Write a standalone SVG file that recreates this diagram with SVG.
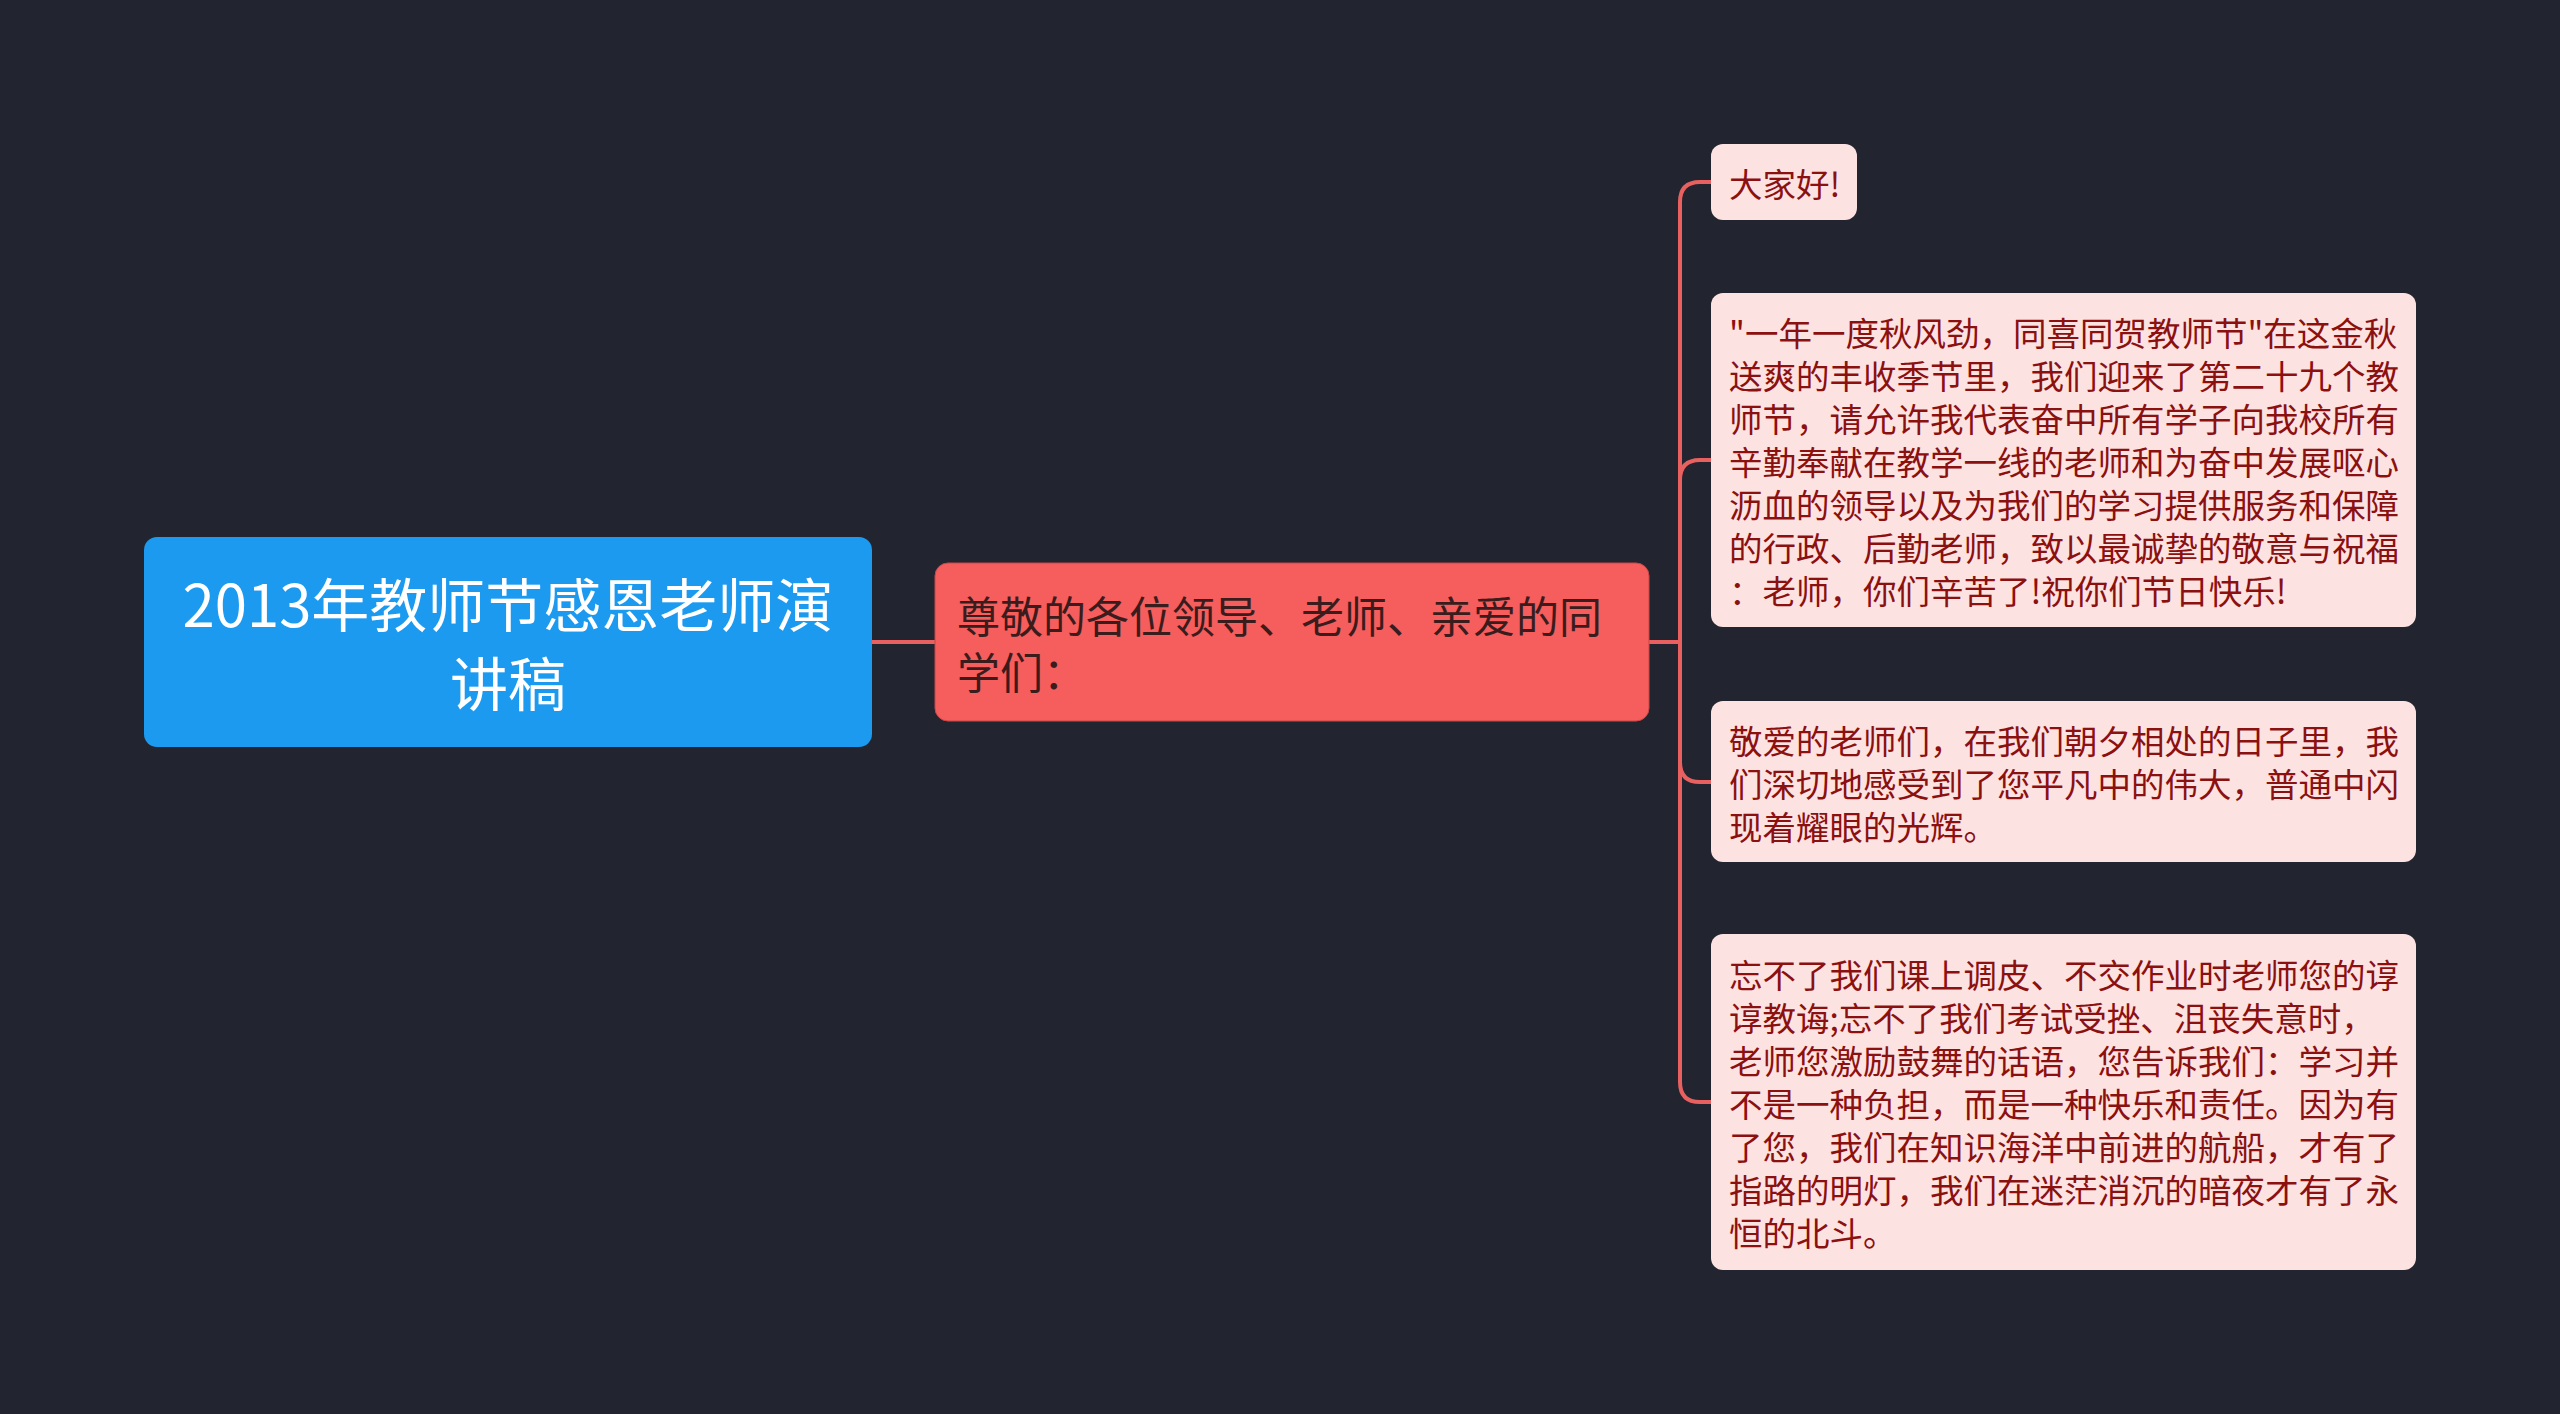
<svg xmlns="http://www.w3.org/2000/svg" width="2560" height="1414" viewBox="0 0 2560 1414">
<style>
.bg{fill:#22252f}
.link{fill:none;stroke:#e8605f;stroke-width:4}
.root rect{fill:#1b9af0}
.root text{fill:#ffffff;font-size:58px;text-anchor:middle}
.mid rect{fill:#f65d5d;stroke:#c94848;stroke-width:1}
.mid text{fill:#3a1c1c;font-size:43px}
.leaf rect{fill:#fde2e2}
.leaf text{fill:#8b1010;font-size:33.5px}
text{font-family:"Noto Sans CJK SC","Noto Sans",sans-serif;dominant-baseline:central}
</style>
<rect class="bg" x="0" y="0" width="2560" height="1414"/>
<g id="connectors">
<path class="link" d="M872 642 H935"/>
<path class="link" d="M1649 642 H1680 V202 Q1680 182 1700 182 H1711"/>
<path class="link" d="M1649 642 H1680 V480 Q1680 460 1700 460 H1711"/>
<path class="link" d="M1649 642 H1680 V762 Q1680 782 1700 782 H1711"/>
<path class="link" d="M1649 642 H1680 V1082 Q1680 1102 1700 1102 H1711"/>
</g>
<g id="root" class="root">
<rect x="144" y="537" width="728" height="210" rx="13"/>
<text><tspan x="508" y="602">2013年教师节感恩老师演</tspan><tspan x="508" y="681">讲稿</tspan></text>
</g>
<g id="mid" class="mid">
<rect x="935" y="563" width="714" height="158" rx="13"/>
<text><tspan x="957" y="614">尊敬的各位领导、老师、亲爱的同</tspan><tspan x="957" y="670">学们：</tspan></text>
</g>
<g id="leaf1" class="leaf">
<rect x="1711" y="144" width="146" height="76" rx="12"/>
<text x="1729" y="182">大家好!</text>
</g>
<g id="leaf2" class="leaf">
<rect x="1711" y="293" width="705" height="334" rx="12"/>
<text><tspan x="1729" y="331">"一年一度秋风劲，同喜同贺教师节"在这金秋</tspan><tspan x="1729" y="374">送爽的丰收季节里，我们迎来了第二十九个教</tspan><tspan x="1729" y="417">师节，请允许我代表奋中所有学子向我校所有</tspan><tspan x="1729" y="460">辛勤奉献在教学一线的老师和为奋中发展呕心</tspan><tspan x="1729" y="503">沥血的领导以及为我们的学习提供服务和保障</tspan><tspan x="1729" y="546">的行政、后勤老师，致以最诚挚的敬意与祝福</tspan><tspan x="1729" y="589">：老师，你们辛苦了!祝你们节日快乐!</tspan></text>
</g>
<g id="leaf3" class="leaf">
<rect x="1711" y="701" width="705" height="161" rx="12"/>
<text><tspan x="1729" y="739">敬爱的老师们，在我们朝夕相处的日子里，我</tspan><tspan x="1729" y="782">们深切地感受到了您平凡中的伟大，普通中闪</tspan><tspan x="1729" y="825">现着耀眼的光辉。</tspan></text>
</g>
<g id="leaf4" class="leaf">
<rect x="1711" y="934" width="705" height="336" rx="12"/>
<text><tspan x="1729" y="973">忘不了我们课上调皮、不交作业时老师您的谆</tspan><tspan x="1729" y="1016">谆教诲;忘不了我们考试受挫、沮丧失意时，</tspan><tspan x="1729" y="1059">老师您激励鼓舞的话语，您告诉我们：学习并</tspan><tspan x="1729" y="1102">不是一种负担，而是一种快乐和责任。因为有</tspan><tspan x="1729" y="1145">了您，我们在知识海洋中前进的航船，才有了</tspan><tspan x="1729" y="1188">指路的明灯，我们在迷茫消沉的暗夜才有了永</tspan><tspan x="1729" y="1231">恒的北斗。</tspan></text>
</g>
</svg>
